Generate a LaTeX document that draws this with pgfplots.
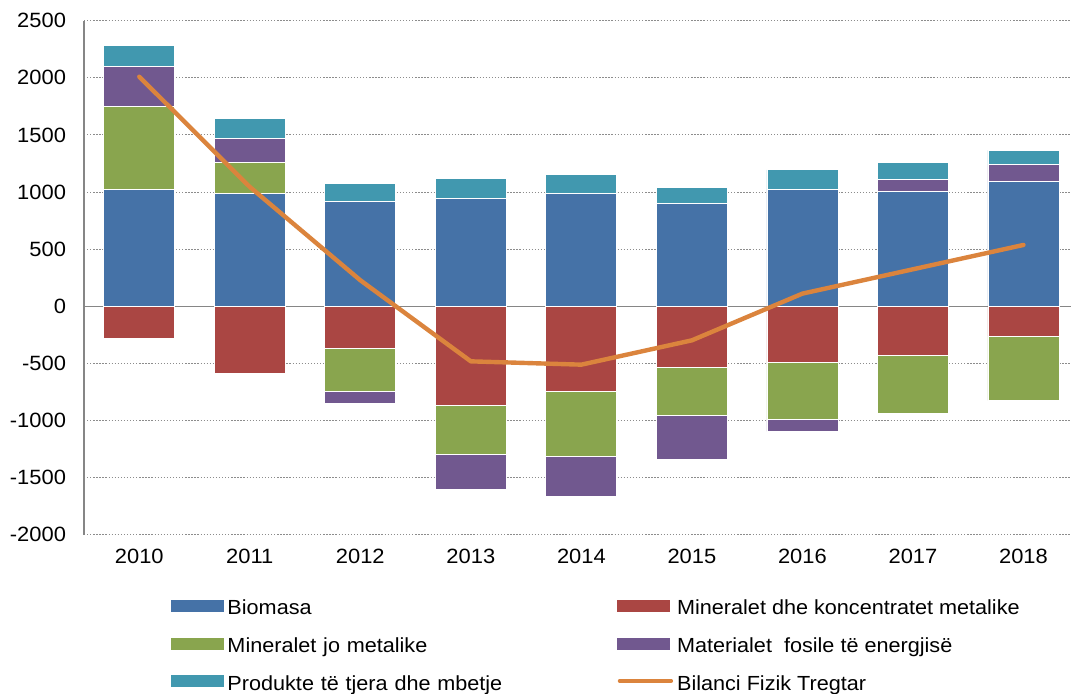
\documentclass[border=0pt]{standalone}
\usepackage{fontspec}
\setmainfont{Liberation Sans}[FakeStretch=1.06]
\usepackage{pgfplots}
\pgfplotsset{compat=1.18}
\definecolor{cblue}{HTML}{4572A7}
\definecolor{cred}{HTML}{AA4643}
\definecolor{cgreen}{HTML}{89A54E}
\definecolor{cpurple}{HTML}{71588F}
\definecolor{cteal}{HTML}{4198AF}
\definecolor{corange}{HTML}{DB843D}
\definecolor{axisgray}{HTML}{868686}
\definecolor{gridgray}{HTML}{8C8C8C}
\pgfplotsset{
  base/.style={
    scale only axis, width=740.25pt, height=385.5pt,
    at={(63pt,118.7pt)}, anchor=south west,
    xmin=-0.5, xmax=8.43, ymin=-2000, ymax=2500,
    bar width=53.25pt,
  },
}
\begin{document}
\begin{tikzpicture}
\useasboundingbox (0,0) rectangle (803.25pt,519.75pt);
% positive stack
\begin{axis}[base, ybar stacked,
  axis y line*=left, axis x line*=bottom,
  x axis line style={draw=none},
  y axis line style={draw=axisgray, line width=0.9pt},
  ytick={-2000,-1500,...,2500},
  xtick={0,...,8},
  xticklabels={2010,2011,2012,2013,2014,2015,2016,2017,2018},
  ymajorgrids,
  major grid style={gridgray, line width=0.8pt, dash pattern=on 1pt off 1.3pt},
  major tick length=0pt,
  tick label style={font=\fontsize{15.5}{18}\selectfont},
  yticklabel style={xshift=-10pt},
  xticklabel style={yshift=-7.5pt},
  /pgf/number format/assume math mode=true,
  /pgf/number format/1000 sep={},
  every axis plot/.append style={draw=white, line width=0.6pt},
]
\addplot[fill=cblue] coordinates {(0,1025) (1,984) (2,914) (3,941) (4,984) (5,897) (6,1025) (7,1002) (8,1090)};
\addplot[fill=cgreen] coordinates {(0,725) (1,278) (2,0) (3,0) (4,0) (5,0) (6,0) (7,0) (8,0)};
\addplot[fill=cpurple] coordinates {(0,347) (1,208) (2,0) (3,0) (4,0) (5,0) (6,0) (7,105) (8,149)};
\addplot[fill=cteal] coordinates {(0,188) (1,175) (2,164) (3,175) (4,173) (5,140) (6,170) (7,155) (8,125)};
\end{axis}
% negative stack
\begin{axis}[base, ybar stacked, hide axis,
  every axis plot/.append style={draw=white, line width=0.6pt},
]
\addplot[fill=cred] coordinates {(0,-283) (1,-590) (2,-368) (3,-870) (4,-745) (5,-532) (6,-491) (7,-432) (8,-260)};
\addplot[fill=cgreen] coordinates {(0,0) (1,0) (2,-377) (3,-430) (4,-573) (5,-420) (6,-502) (7,-506) (8,-564)};
\addplot[fill=cpurple] coordinates {(0,0) (1,0) (2,-105) (3,-307) (4,-350) (5,-392) (6,-103) (7,0) (8,0)};
\draw[axisgray, line width=0.9pt] (axis cs:-0.5,0) -- (axis cs:8.43,0);
\end{axis}
% line and legend
\begin{axis}[base, hide axis,
  legend columns=2,
  legend cell align=left,
  legend style={draw=none, fill=none, inner sep=0pt, outer sep=0pt,
    at={(0.0881,-0.1270)}, anchor=north west,
    font=\fontsize{15.3}{18}\selectfont,
    row sep=14pt,
    nodes={inner sep=0pt, text height=11pt, text depth=3pt},
    /tikz/every odd column/.append style={column sep=3pt},
    /tikz/column 2/.style={text width=292.5pt},
  },
]
\addlegendimage{legend image code/.code={\fill[cblue] (0pt,-1.2pt) rectangle (39pt,7pt);}}
\addlegendentry{Biomasa}
\addlegendimage{legend image code/.code={\fill[cred] (0pt,-1.2pt) rectangle (39pt,7pt);}}
\addlegendentry{Mineralet dhe koncentratet metalike}
\addlegendimage{legend image code/.code={\fill[cgreen] (0pt,-1.2pt) rectangle (39pt,7pt);}}
\addlegendentry{Mineralet jo metalike}
\addlegendimage{legend image code/.code={\fill[cpurple] (0pt,-1.2pt) rectangle (39pt,7pt);}}
\addlegendentry{Materialet\ \ fosile të energjisë}
\addlegendimage{legend image code/.code={\fill[cteal] (0pt,-1.2pt) rectangle (39pt,7pt);}}
\addlegendentry{Produkte të tjera dhe mbetje}
\addplot[corange, line width=3.3pt, line join=round, line cap=round,
  legend image code/.code={\draw[corange, line width=3pt, line cap=round] (1.5pt,3pt) -- (40pt,3pt);}]
  coordinates {(0,2010) (1,1045) (2,228) (3,-482) (4,-511) (5,-298) (6,111) (7,324) (8,537)};
\addlegendentry{Bilanci Fizik Tregtar}
\end{axis}
\end{tikzpicture}
\end{document}
